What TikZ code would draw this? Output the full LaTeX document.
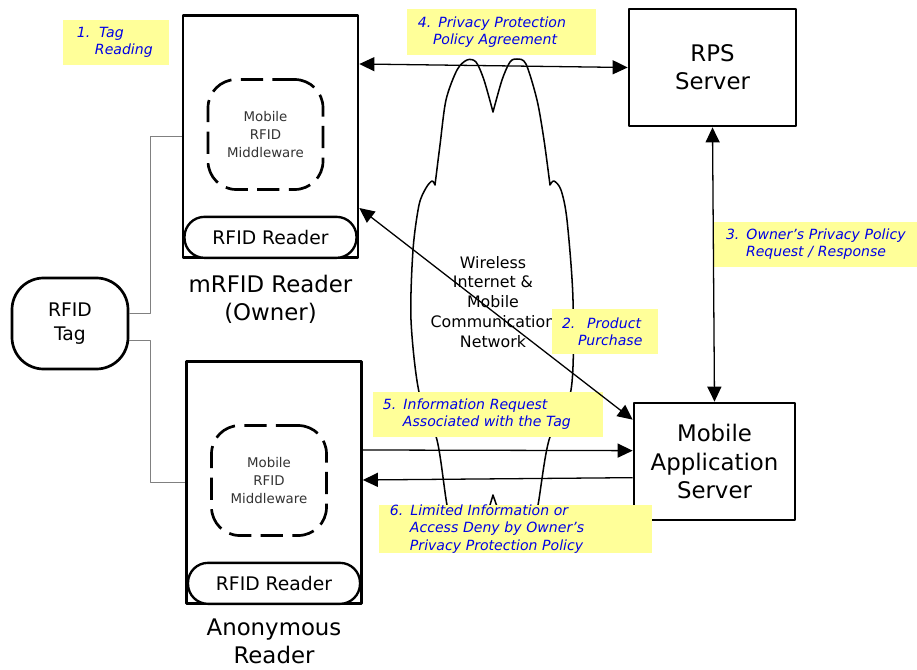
\documentclass[tikz,border=0pt]{standalone}
\usepackage{fontspec}
\setmainfont{DejaVu Sans}
\usetikzlibrary{arrows.meta}
\definecolor{noteyellow}{RGB}{255,255,153}
\definecolor{noteblue}{RGB}{0,0,230}
\begin{document}
\begin{tikzpicture}[x=0.03cm,y=-0.03cm,>={Triangle[length=4.5mm,width=4.2mm]},line join=round,
	box/.style={draw,line width=2.3pt,fill=white,align=center,inner sep=0pt},
	pill/.style={draw,line width=2pt,fill=white,rounded corners=0.6cm,minimum width=5.16cm,minimum height=1.23cm,inner sep=0pt,font=\fontsize{16}{20}\selectfont},
	mware/.style={draw,line width=2.3pt,dash pattern=on 19pt off 8pt,rounded corners=0.85cm,minimum width=3.45cm,minimum height=3.3cm,align=center,text=black!80,font=\fontsize{11.4}{15}\selectfont},
	big/.style={align=center,font=\fontsize{19.5}{24}\selectfont},
	note/.style={fill=noteyellow,text=noteblue,inner sep=0pt,minimum height=1.35cm,align=left,font=\itshape\fontsize{12}{14.7}\selectfont},
	link/.style={<->,line width=1.1pt},
	wire/.style={draw=gray,line width=0.8pt}]
	\useasboundingbox (0,0) rectangle (917,670);
	\foreach \n/\x/\y/\t/\s in {owner/270.5/136.5/{mRFID Reader\\(Owner)}/1.22,anon/274/482.5/{Anonymous\\Reader}/1.1}{
		\node[box,minimum width=5.25cm,minimum height=7.27cm] (\n) at (\x,\y) {};
		\node[pill,anchor=south] (\n rr) at (\n.south) {RFID Reader};
		\node[mware] (\n mw) at ([shift={(-5,-2)}]\n.center) {Mobile\\RFID\\Middleware};
		\node[big] (\n name) at ([yshift=-\s cm]\n.south) {\t};
	}
	\node[draw,line width=2.3pt,rounded corners=0.95cm,minimum width=3.48cm,minimum height=2.73cm,align=center,font=\fontsize{16}{20}\selectfont] (tag) at (70,323.5) {RFID\\Tag};
	\node[box,big,minimum width=5.01cm,minimum height=3.51cm] (rps) at (712.5,67.5) {RPS\\Server};
	\node[box,big,minimum width=4.83cm,minimum height=3.51cm] (mas) at (714.5,461.5) {Mobile\\Application\\Server};
	\draw[wire] ([yshift=0.3cm]tag.east) -- ++(21,0) |- (owner.west);
	\draw[wire] ([yshift=-0.5cm]tag.east) -- ++(21,0) |- (anon.west);
	% network cloud
	\draw[line width=1.3pt] plot[smooth] coordinates {(493,495) (484,522) (470,544) (456,540) (447,505) (437,440) (419,392) (411,320) (413,250) (419,205) (426,188) (432,181) (435,185)}
		-- plot[smooth] coordinates {(435,185) (440,145) (446,100) (457,70) (467,60) (476,62) (484,80) (493,112)}
		-- plot[smooth] coordinates {(493,112) (502,80) (510,62) (517,59) (526,64) (537,100) (544,140) (550,185)}
		-- plot[smooth] coordinates {(550,185) (554,181) (561,190) (567,220) (573,300) (571,390) (549,440) (538,505) (530,540) (516,544) (503,522) (493,495)} -- cycle;
	\node[align=center,font=\fontsize{13.5}{17}\selectfont] (net) at (493,302) {Wireless\\Internet \&\\Mobile\\Communication\\Network};
	\node[note,text width=3.18cm] (n1) at (116,42) {\hspace*{0.42cm}1.\hspace{0.26cm}Tag\\\hspace*{0.96cm}Reading};
	\node[note,text width=5.67cm,minimum height=1.38cm] (n4) at (501.5,32) {\hspace*{0.33cm}4. Privacy Protection\\\hspace*{0.78cm}Policy Agreement};
	\node[note,text width=6.12cm] (n3) at (815,244.5) {\hspace*{0.39cm}3. Owner’s Privacy Policy\\\hspace*{0.99cm}Request / Response};
	\node[note,text width=3.18cm] (n2) at (605,331.5) {\hspace*{0.3cm}2.\hspace{0.35cm}Product\\\hspace*{0.78cm}Purchase};
	\node[note,text width=6.9cm] (n5) at (488,414.5) {\hspace*{0.3cm}5. Information Request\\\hspace*{0.9cm}Associated with the Tag};
	\node[note,text width=8.19cm,minimum height=1.38cm] (n6) at (515.5,529) {\hspace*{0.33cm}6. Limited Information or\\\hspace*{0.93cm}Access Deny by Owner’s\\\hspace*{0.93cm}Privacy Protection Policy};
	\draw[link] ([yshift=-1.5cm]owner.north east) -- (rps.west);
	\draw[link] (rps.south) -- (mas.north);
	\draw[link] ([yshift=1.53cm]owner.south east) -- ([yshift=-0.54cm]mas.north west);
	\draw[->,line width=1.1pt] ([yshift=-2.7cm]anon.north east) -- ([yshift=-1.47cm]mas.north west);
	\draw[->,line width=1.1pt] ([yshift=-2.28cm]mas.north west) -- ([yshift=-3.6cm]anon.north east);
\end{tikzpicture}
\end{document}
